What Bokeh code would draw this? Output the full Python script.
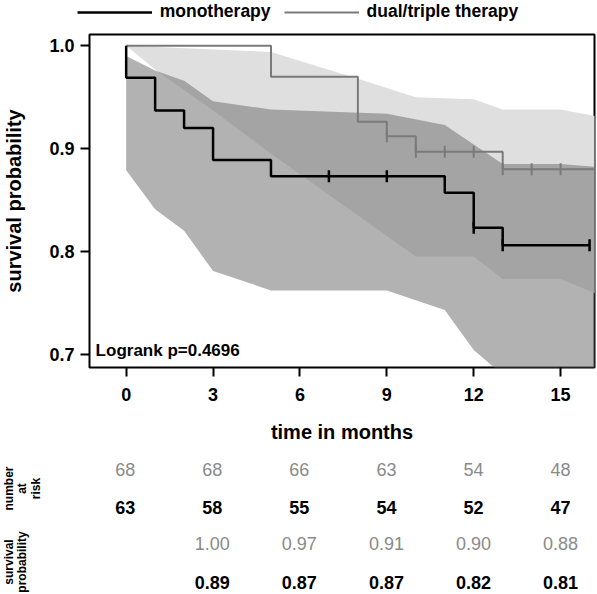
import numpy as np
from bokeh.plotting import figure
from bokeh.models import Range1d, FixedTicker, Legend, LegendItem, Label, PrintfTickFormatter
from bokeh.layouts import column
from bokeh.embed import file_html
from bokeh.resources import INLINE
from bokeh.core.properties import value

# ---------------- data ----------------
# Kaplan-Meier step curves (time in months, survival probability)
mono_t = [0, 0, 1, 2, 3, 5, 11, 12, 13, 16]
mono_s = [1.0, 0.969, 0.937, 0.920, 0.889, 0.873, 0.857, 0.823, 0.806, 0.806]
dual_t = [0, 5, 8, 9, 10, 13, 16.5]
dual_s = [1.0, 0.970, 0.926, 0.912, 0.897, 0.880, 0.880]

# censoring marks
mono_cens_t = [7, 9, 12, 13, 16]
mono_cens_s = [0.873, 0.873, 0.823, 0.806, 0.806]
dual_cens_t = [9, 10, 11, 12, 13, 14, 15]
dual_cens_s = [0.912, 0.897, 0.897, 0.897, 0.880, 0.880, 0.880]

# confidence bands
dual_up_t = [0, 5, 8, 10, 12, 13, 15, 16.3]
dual_up = [1.0, 0.994, 0.968, 0.950, 0.948, 0.938, 0.938, 0.931]
dual_lo_t = [0, 1, 3, 5, 10, 12, 13, 15, 16.3]
dual_lo = [1.0, 0.977, 0.937, 0.895, 0.795, 0.795, 0.773, 0.773, 0.758]
mono_up_t = [0, 1, 2, 3, 5, 9, 11, 13, 15, 16.3]
mono_up = [0.990, 0.976, 0.966, 0.946, 0.938, 0.934, 0.923, 0.885, 0.885, 0.882]
mono_lo_t = [0, 1, 2, 3, 5, 9, 11, 12, 13, 15, 16.3]
mono_lo = [0.879, 0.841, 0.820, 0.781, 0.762, 0.762, 0.743, 0.704, 0.680, 0.680, 0.665]

# risk table
table_times = [0, 3, 6, 9, 12, 15]
dual_risk = [68, 68, 66, 63, 54, 48]
mono_risk = [63, 58, 55, 54, 52, 47]
prob_times = [3, 6, 9, 12, 15]
dual_prob = ["1.00", "0.97", "0.91", "0.90", "0.88"]
mono_prob = ["0.89", "0.87", "0.87", "0.82", "0.81"]

x_ticks = [0, 3, 6, 9, 12, 15]
y_ticks = [0.7, 0.8, 0.9, 1.0]
pval_text = "Logrank p=0.4696"
series_names = ["monotherapy", "dual/triple therapy"]

# ---------------- style ----------------
FONT = value("Liberation Sans")
BLACK = "#000000"
GRAY = "#7a7a7a"
TXT_GRAY = "#8a8a8a"
MONO_LW = 2.5
DUAL_LW = 2

W = 596
H_HDR = 32
H_MAIN = 413
H_TAB = 148
FL, FR, FT, FB = 88, 2, 2, 77
X0, X1 = -1.266, 16.17
Y0, Y1 = 0.687, 1.011


def bare_figure(height, x_range, y_range):
    f = figure(width=W, height=height, x_range=x_range, y_range=y_range,
               output_backend="svg", toolbar_location=None, x_axis_type=None,
               y_axis_type=None, min_border=0, min_border_left=0, min_border_right=0,
               min_border_top=0, min_border_bottom=0)
    f.frame_align = False
    f.grid.visible = False
    f.outline_line_color = None
    return f


# ---------------- legend header ----------------
hdr = bare_figure(H_HDR, Range1d(0, W), Range1d(0, H_HDR))
# off-screen proxy renderers that only carry the legend styling
h_mono = hdr.line(x=[-20, -10], y=[-20, -20], line_color=BLACK, line_width=MONO_LW)
h_dual = hdr.line(x=[-20, -10], y=[-20, -20], line_color=GRAY, line_width=DUAL_LW)
legend = Legend(items=[LegendItem(label=series_names[0], renderers=[h_mono]),
                       LegendItem(label=series_names[1], renderers=[h_dual])],
                orientation="horizontal", location=(76.7, 10),
                glyph_width=75, glyph_height=20, label_height=20, label_standoff=8,
                spacing=13, padding=0, margin=0, border_line_color=None,
                background_fill_alpha=0, label_text_font="Liberation Sans",
                label_text_font_style="bold", label_text_font_size="17.5px",
                label_text_color=BLACK)
hdr.add_layout(legend)

# ---------------- main plot ----------------
p = figure(width=W, height=H_MAIN, x_range=Range1d(X0, X1), y_range=Range1d(Y0, Y1),
           output_backend="svg", toolbar_location=None,
           min_border_left=FL, min_border_right=FR, min_border_top=FT, min_border_bottom=FB)
p.frame_align = False
p.grid.visible = False
p.outline_line_color = BLACK
p.outline_line_width = 2
p.background_fill_color = "white"
p.border_fill_color = "white"

# bands
p.patch(dual_up_t + dual_lo_t[::-1], dual_up + dual_lo[::-1],
        fill_color="#dfdfdf", fill_alpha=1.0, line_color=None)
p.patch(mono_up_t + mono_lo_t[::-1], mono_up + mono_lo[::-1],
        fill_color="#787878", fill_alpha=0.57, line_color=None)

# curves
p.step(dual_t, dual_s, mode="after", line_color=GRAY, line_width=DUAL_LW)
p.step(mono_t, mono_s, mode="after", line_color=BLACK, line_width=MONO_LW)
p.scatter(dual_cens_t, dual_cens_s, marker="dash", angle=np.pi / 2, size=12,
          line_color=GRAY, line_width=DUAL_LW)
p.scatter(mono_cens_t, mono_cens_s, marker="dash", angle=np.pi / 2, size=12,
          line_color=BLACK, line_width=MONO_LW)

# axes
for ax in (p.xaxis[0], p.yaxis[0]):
    ax.axis_line_color = None
    ax.major_tick_line_color = BLACK
    ax.major_tick_line_width = 2
    ax.major_tick_out = 9
    ax.major_tick_in = 0
    ax.minor_tick_line_color = None
    ax.major_label_text_font = "Liberation Sans"
    ax.major_label_text_font_style = "bold"
    ax.major_label_text_font_size = "18px"
    ax.major_label_text_color = BLACK
    ax.axis_label_text_font = "Liberation Sans"
    ax.axis_label_text_font_style = "bold"
    ax.axis_label_text_font_size = "20px"
    ax.axis_label_text_color = BLACK

p.xaxis.ticker = FixedTicker(ticks=x_ticks)
p.yaxis.ticker = FixedTicker(ticks=y_ticks)
p.yaxis.formatter = PrintfTickFormatter(format="%.1f")
p.xaxis.axis_label = "time in months"
p.yaxis.axis_label = "survival probability"
p.xaxis.major_label_standoff = 11
p.yaxis.major_label_standoff = 6
p.xaxis.axis_label_standoff = 17
p.yaxis.axis_label_standoff = 21

p.add_layout(Label(x=-1.055, y=0.704, text=pval_text, text_font="Liberation Sans",
                   text_font_style="bold", text_font_size="17px", text_baseline="middle",
                   text_align="left", text_color=BLACK))

# ---------------- risk table ----------------
ppm = (W - FL - FR) / (X1 - X0)
TX0 = X0 - FL / ppm
TX1 = X1 + FR / ppm


def px2month(px):
    return TX0 + px / ppm


t = bare_figure(H_TAB, Range1d(TX0, TX1), Range1d(0, H_TAB))

row_y = [24.0, 61.7, 98.3, 136.7]  # pixels from top of table
rows = [
    (table_times, [str(v) for v in dual_risk], TXT_GRAY, "normal"),
    (table_times, [str(v) for v in mono_risk], BLACK, "bold"),
    (prob_times, dual_prob, TXT_GRAY, "normal"),
    (prob_times, mono_prob, BLACK, "bold"),
]
for (xs, labels, col, style), yy in zip(rows, row_y):
    t.text(x=xs, y=[H_TAB - yy] * len(xs), text=labels, text_align="center",
           text_baseline="middle", text_font=FONT, text_font_style=style,
           text_font_size=value("18px"), text_color=col)

side_labels = ["number", "at", "risk", "survival", "probability"]
side_px = [8.0, 21.5, 35.0, 8.0, 21.0]
side_y = [43.0, 43.0, 43.0, 116.5, 116.5]
t.text(x=[px2month(v) for v in side_px], y=[H_TAB - v for v in side_y], text=side_labels,
       angle=np.pi / 2, text_align="center", text_baseline="middle", text_font=FONT,
       text_font_style="bold", text_font_size=value("12px"), text_color=BLACK)

layout = column(hdr, p, t, spacing=0)
open("out.html", "w").write(file_html(layout, INLINE))
